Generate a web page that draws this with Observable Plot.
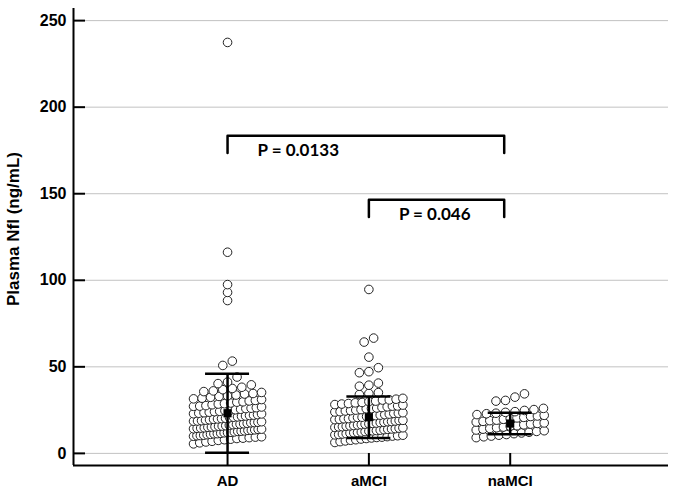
<!DOCTYPE html>
<html><head><meta charset="utf-8">
<script src="https://cdn.jsdelivr.net/npm/d3@7"></script>
<script src="https://cdn.jsdelivr.net/npm/@observablehq/plot@0.6"></script>
<style>body{margin:0;background:#fff;}</style>
</head><body><div id="chart"></div>
<script>
// ---- data ----
const groups = ["AD", "aMCI", "naMCI"];

const adValues = [
  237.4, 116.2, 97.5, 93.0, 88.3, 53.3, 50.8,
  44.1, 41.2, 40.3, 39.6, 38.2, 37.5, 36.8, 36.1, 35.7, 35.2,
  34.6, 34.3, 33.7, 33.2, 32.9, 32.4, 31.9, 31.5, 31.1, 30.6,
  30.3, 29.8, 29.6, 29.1, 28.7, 28.5, 28.1, 27.6, 27.3, 27.2,
  26.8, 26.4, 26.1, 25.9, 25.5, 25.2, 24.9, 24.7, 24.3, 24.1,
  23.8, 23.5, 23.2, 22.9, 22.8, 22.4, 22.1, 21.9, 21.6, 21.4,
  21.1, 20.9, 20.6, 20.3, 20.1, 19.9, 19.7, 19.4, 19.2, 18.9,
  18.7, 18.6, 18.3, 18.0, 17.8, 17.7, 17.4, 17.1, 16.9, 16.8,
  16.6, 16.3, 16.0, 15.8, 15.7, 15.4, 15.2, 15.1, 14.8, 14.6,
  14.5, 14.2, 14.0, 13.9, 13.6, 13.4, 13.3, 13.0, 12.8, 12.7,
  12.4, 12.2, 12.0, 11.9, 11.6, 11.4, 11.3, 11.0, 10.8, 10.5,
  10.3, 10.2, 9.9, 9.6, 9.4, 9.1, 8.8, 8.6, 8.2, 7.9,
  7.5, 7.0, 6.6, 6.1, 5.5
];

const amciValues = [
  94.7, 66.6, 64.3, 55.6, 49.5, 47.2, 46.6, 40.6, 39.4, 38.8, 35.1, 34.6, 34.0,
  31.8, 31.3, 30.9, 30.8, 30.2, 29.9, 29.4, 29.2, 28.8, 28.5,
  28.2, 27.9, 27.4, 27.3, 26.9, 26.5, 26.2, 25.9, 25.8, 25.3,
  25.0, 24.7, 24.5, 24.1, 23.9, 23.5, 23.2, 23.1, 22.7, 22.4,
  22.1, 21.8, 21.7, 21.3, 20.9, 20.8, 20.5, 20.1, 20.0, 19.7,
  19.5, 19.1, 19.0, 18.7, 18.4, 18.3, 18.0, 17.8, 17.5, 17.3,
  17.1, 16.9, 16.6, 16.4, 16.1, 15.9, 15.7, 15.4, 15.3, 15.0,
  14.8, 14.6, 14.3, 14.1, 13.9, 13.7, 13.4, 13.2, 13.0, 12.8,
  12.6, 12.3, 12.1, 11.9, 11.7, 11.4, 11.2, 10.9, 10.7, 10.5,
  10.2, 10.0, 9.7, 9.4, 9.2, 8.9, 8.6, 8.3, 7.9, 7.6,
  7.2, 6.8, 6.3
];

const namciValues = [
  34.4, 32.5, 30.6, 30.2,
  26.0, 25.3, 24.8, 24.1, 23.7, 23.2, 22.9, 22.4, 22.0, 21.6,
  21.3, 20.8, 20.5, 20.1, 19.7, 19.2, 18.9, 18.5, 18.1, 17.6,
  17.3, 16.9, 16.5, 16.0, 15.7, 15.2, 14.8, 14.4, 14.0, 13.5,
  13.1, 12.7, 12.2, 11.8, 11.4, 10.9, 10.5, 10.0, 9.6, 9.1
];

const means = [23.2, 20.9, 17.25];
const sds = [22.8, 12.0, 6.25];

const yTicks = [0, 50, 100, 150, 200, 250];
const yTitle = "Plasma Nfl (ng/mL)";

const comparisons = [
  {from: "AD", to: "naMCI", y: 183.5, label: "P = 0.0133"},
  {from: "aMCI", to: "naMCI", y: 146.5, label: "P = 0.046"}
];

// ---- layout ----
const W = 675, H = 495, mL = 73, mR = 7, mT = 8, mB = 30;
const xDomain = [-0.09, 4.12];
const yDomain = [-7, 257];
const pxPerX = (W - mL - mR) / (xDomain[1] - xDomain[0]);
const pos = g => groups.indexOf(g) + 1;

// simple scatter-dot (swarm) layout: rows of nearby values spread horizontally
function swarm(values, g) {
  const binH = 4.2, gap = 9.5, span = 68;
  const sorted = values.slice().sort((a, b) => a - b);
  const bins = []; let cur = null;
  for (const v of sorted) {
    if (!cur || v - cur.start > binH) { cur = {start: v, items: []}; bins.push(cur); }
    cur.items.push(v);
  }
  const out = [];
  for (const b of bins) {
    const k = b.items.length;
    const s = k > 1 ? Math.min(gap, span / (k - 1)) : 0;
    b.items.forEach((v, j) => out.push({group: g, value: v, x: pos(g) + (j - (k - 1) / 2) * s / pxPerX}));
  }
  return out;
}
const points = [
  ...swarm(adValues, "AD"),
  ...swarm(amciValues, "aMCI"),
  ...swarm(namciValues, "naMCI")
];

const stats = groups.map((g, i) => ({group: g, x: i + 1, mean: means[i], lo: means[i] - sds[i], hi: means[i] + sds[i]}));
const caps = stats.flatMap(d => [{x: d.x, v: d.lo}, {x: d.x, v: d.hi}]);
const capHalf = 22 / pxPerX;

const legDrop = 10;
const rightInset = 6 / pxPerX;
const bracketPts = comparisons.flatMap(c => [
  {id: c.label, x: pos(c.from), y: c.y - legDrop},
  {id: c.label, x: pos(c.from), y: c.y},
  {id: c.label, x: pos(c.to) - rightInset, y: c.y},
  {id: c.label, x: pos(c.to) - rightInset, y: c.y - legDrop}
]);

const chart = Plot.plot({
  width: W, height: H,
  marginLeft: mL, marginRight: mR, marginTop: mT, marginBottom: mB,
  style: {fontFamily: "'Liberation Sans', Arial, sans-serif", fontSize: "16px", fontWeight: "bold", background: "#fff", color: "#000"},
  x: {domain: xDomain},
  y: {domain: yDomain},
  marks: [
    Plot.ruleY(yTicks, {stroke: "#c2c2c2", strokeWidth: 1, insetLeft: 12}),
    Plot.ruleY(yTicks, {stroke: "#000", strokeWidth: 2, insetRight: (W - mL - mR) - 12}),
    Plot.ruleX(groups.map(pos), {stroke: "#000", strokeWidth: 2, insetTop: (H - mT - mB) - 12}),
    Plot.ruleX([xDomain[0]], {stroke: "#000", strokeWidth: 2}),
    Plot.ruleY([yDomain[0]], {stroke: "#000", strokeWidth: 2}),
    Plot.dot(points, {x: "x", y: "value", r: 4.3, fill: "#fff", stroke: "#222", strokeWidth: 1}),
    Plot.ruleX(stats, {x: "x", y1: "lo", y2: "hi", stroke: "#000", strokeWidth: 2.5}),
    Plot.ruleY(caps, {x1: d => d.x - capHalf, x2: d => d.x + capHalf, y: "v", stroke: "#000", strokeWidth: 2.5}),
    Plot.dot(stats, {x: "x", y: "mean", symbol: "square", r: 4.6, fill: "#000", stroke: "none"}),
    Plot.line(bracketPts, {x: "x", y: "y", z: "id", stroke: "#000", strokeWidth: 2.5, strokeLinejoin: "round", strokeLinecap: "round"}),
    Plot.text(comparisons, {x: d => pos(d.from), y: "y", text: "label", textAnchor: "start", lineAnchor: "middle", dx: 30, dy: 15, fontFamily: "Lato, 'Open Sans', sans-serif", fontWeight: "bold", fontSize: 17, fill: "#000"}),
    Plot.axisY({ticks: yTicks, tickSize: 0, tickPadding: 7, label: null, fontSize: 16}),
    Plot.axisX({ticks: groups.map(pos), tickFormat: v => groups[Math.round(v) - 1], tickSize: 0, tickPadding: 10, label: null, fontSize: 15}),
    Plot.text([yTitle], {frameAnchor: "left", rotate: -90, dx: -60, dy: -8, textAnchor: "middle", fontSize: 17, fontWeight: "bold", fill: "#000"})
  ]
});
document.getElementById("chart").appendChild(chart);
</script>
</body></html>
